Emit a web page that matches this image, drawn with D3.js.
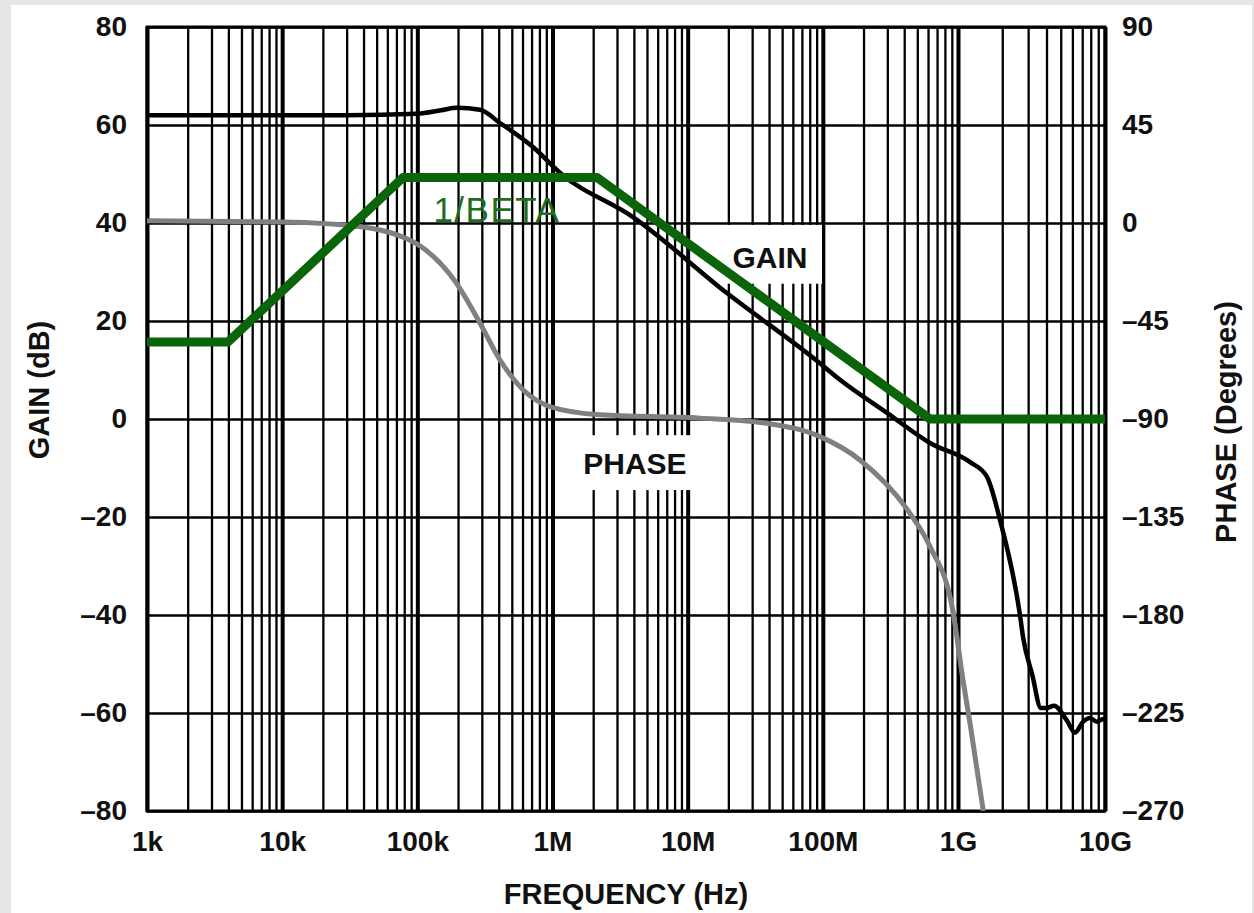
<!DOCTYPE html>
<html>
<head>
<meta charset="utf-8">
<script src="https://cdn.jsdelivr.net/npm/d3@7"></script>
<style>
  html, body { margin: 0; padding: 0; background: #e6e6e6; }
  svg { display: block; }
  text { font-family: "Liberation Sans", Arial, Helvetica, sans-serif; }
</style>
</head>
<body>
<svg id="chart" width="1254" height="913"></svg>
<script>
// Open-loop gain / phase and feedback factor (1/beta) versus frequency

// Frequency axis decades and labels
const decades = [1e3, 1e4, 1e5, 1e6, 1e7, 1e8, 1e9, 1e10];
const decadeLabels = ["1k", "10k", "100k", "1M", "10M", "100M", "1G", "10G"];

// Left (gain) and right (phase) axis ticks
const gainTicks = [80, 60, 40, 20, 0, -20, -40, -60, -80];
const phaseTicks = [90, 45, 0, -45, -90, -135, -180, -225, -270];

// Open-loop gain, dB
const gainFreq = [1e3, 3e4, 1e5, 1.5e5, 1.96e5, 2.91e5, 4.09e5, 7.17e5, 1.14e6, 3.94e6,
  1.95e7, 9.5e7, 1.34e8, 3e8, 6.21e8, 1.21e9, 1.575e9, 1.93e9, 2.64e9, 2.77e9, 3.2e9,
  3.67e9, 4.0e9, 4.5e9, 5.5e9, 6.25e9, 7.08e9, 7.9e9, 8.8e9, 9.7e9, 1e10];
const gainDb = [62, 62, 62.3, 63, 63.5, 63.1, 60.4, 55.5, 50.2, 41.2,
  25.7, 11.4, 8.0, 1.2, -4.9, -8.8, -11.8, -20.6, -40, -44.5, -52.2,
  -59, -59, -58.5, -61.5, -64, -61.8, -61, -61.8, -61.2, -61.5];

// Open-loop phase, degrees
const phaseFreq = [1e3, 1e4, 3.96e4, 5.3e4, 7.5e4, 9.94e4, 1.95e5, 2.91e5, 4.09e5, 6.08e5,
  9.58e5, 2.25e6, 1.23e7, 3.85e7, 9.53e7, 1.88e8, 4.41e8, 6.21e8, 9.23e8, 1.081e9,
  1.207e9, 1.486e9];
const phaseDeg = [1, 0.5, -1.8, -3.2, -6, -9.6, -27.7, -46, -62.9, -76.7,
  -84.3, -88.1, -89.6, -92, -98.1, -108.8, -133.3, -148.6, -179.2, -209.8,
  -229.7, -270];

// Noise gain 1/beta, dB (piecewise straight segments)
const betaFreq = [1e3, 3.97e3, 7.83e4, 2.13e6, 6.21e8, 1e10];
const betaDb = [15.7, 15.7, 49.3, 49.3, 0, 0];

// Curve annotations: name, anchor (freq, dB), white panel [f0, f1, dbTop, dbBottom]
const notes = [
  { text: "GAIN", f: 4.06e7, db: 33, box: [1.09e7, 9.86e7, 39.6, 27.6] },
  { text: "PHASE", f: 4.07e6, db: -9, box: [1.47e6, 1.23e7, -3.3, -14.5] }
];
const betaNote = { text: "1/BETA", f: 3.88e5, db: 42.7 };

const svg = d3.select("#chart");
const W = 1254, H = 913;
const pLeft = 147, pRight = 1105, pTop = 27, pBottom = 811;

// card
svg.append("rect").attr("x", 0).attr("y", 0).attr("width", W).attr("height", H).attr("fill", "#e6e6e6");
svg.append("rect").attr("x", 11).attr("y", 5).attr("width", 1241).attr("height", 908).attr("fill", "#ffffff");

const x = d3.scaleLog().domain([1e3, 1e9, 1e10]).range([pLeft, 958, pRight]);
const yG = d3.scaleLinear().domain([-80, 80]).range([pBottom, pTop]);
const yP = d3.scaleLinear().domain([-270, 90]).range([pBottom, pTop]);

// vertical grid: 2..9 in every decade, heavier lines on the decades
const minor = [];
decades.slice(0, -1).forEach(d => { for (let k = 2; k <= 9; k++) minor.push(d * k); });

const grid = svg.append("g");
grid.append("g")
  .attr("transform", `translate(0,${pBottom})`)
  .call(d3.axisBottom(x).tickValues(minor).tickSize(-(pBottom - pTop)).tickFormat(""))
  .call(g => g.select(".domain").remove())
  .call(g => g.selectAll("line").attr("stroke", "#000").attr("stroke-width", 2.3));
grid.append("g")
  .attr("transform", `translate(0,${pBottom})`)
  .call(d3.axisBottom(x).tickValues(decades).tickSize(-(pBottom - pTop)).tickFormat(""))
  .call(g => g.select(".domain").remove())
  .call(g => g.selectAll("line").attr("stroke", "#000").attr("stroke-width", 4));
grid.append("g")
  .attr("transform", `translate(${pLeft},0)`)
  .call(d3.axisLeft(yG).tickValues(gainTicks).tickSize(-(pRight - pLeft)).tickFormat(""))
  .call(g => g.select(".domain").remove())
  .call(g => g.selectAll("line").attr("stroke", "#000").attr("stroke-width", 2.3));

// white panels behind curve names
notes.forEach(n => {
  svg.append("rect")
    .attr("x", x(n.box[0])).attr("y", yG(n.box[2]))
    .attr("width", x(n.box[1]) - x(n.box[0]))
    .attr("height", yG(n.box[3]) - yG(n.box[2]))
    .attr("fill", "#ffffff");
});

// frame
svg.append("rect")
  .attr("x", pLeft).attr("y", pTop).attr("width", pRight - pLeft).attr("height", pBottom - pTop)
  .attr("fill", "none").attr("stroke", "#000").attr("stroke-width", 3);

const fmt = v => (v < 0 ? "\u2013" + Math.abs(v) : String(v));
const styleLabels = g => g.selectAll("text").attr("font-size", 28).attr("font-weight", "bold")
  .attr("fill", "#111").attr("font-family", "'Liberation Sans', Arial, sans-serif");

// left axis labels
svg.append("g")
  .attr("transform", `translate(${pLeft},0)`)
  .call(d3.axisLeft(yG).tickValues(gainTicks).tickSize(0).tickPadding(20).tickFormat(fmt))
  .call(g => g.select(".domain").remove())
  .call(styleLabels);

// right axis labels
svg.append("g")
  .attr("transform", `translate(${pRight},0)`)
  .call(d3.axisRight(yP).tickValues(phaseTicks).tickSize(0).tickPadding(17).tickFormat(fmt))
  .call(g => g.select(".domain").remove())
  .call(styleLabels);

// bottom axis labels
svg.append("g")
  .attr("transform", `translate(0,${pBottom})`)
  .call(d3.axisBottom(x).tickValues(decades).tickSize(0).tickPadding(20)
    .tickFormat((d, i) => decadeLabels[i]))
  .call(g => g.select(".domain").remove())
  .call(styleLabels);

// axis titles
svg.append("text").attr("transform", "translate(49,390) rotate(-90)")
  .attr("text-anchor", "middle").attr("font-size", 29).attr("font-weight", "bold").attr("fill", "#111")
  .text("GAIN (dB)");
svg.append("text").attr("transform", "translate(1236,422) rotate(-90)")
  .attr("text-anchor", "middle").attr("font-size", 29).attr("font-weight", "bold").attr("fill", "#111")
  .text("PHASE (Degrees)");
svg.append("text").attr("x", 626).attr("y", 904)
  .attr("text-anchor", "middle").attr("font-size", 29).attr("font-weight", "bold").attr("fill", "#111")
  .text("FREQUENCY (Hz)");

// curves
const gainData = gainFreq.map((f, i) => [f, gainDb[i]]);
const phaseData = phaseFreq.map((f, i) => [f, phaseDeg[i]]);
const betaData = betaFreq.map((f, i) => [f, betaDb[i]]);

svg.append("path").datum(phaseData)
  .attr("d", d3.line().x(d => x(d[0])).y(d => yP(d[1])).curve(d3.curveMonotoneX))
  .attr("fill", "none").attr("stroke", "#808080").attr("stroke-width", 5);

svg.append("path").datum(gainData)
  .attr("d", d3.line().x(d => x(d[0])).y(d => yG(d[1])).curve(d3.curveMonotoneX))
  .attr("fill", "none").attr("stroke", "#000").attr("stroke-width", 4.5).attr("stroke-linejoin", "round");

svg.append("path").datum(betaData)
  .attr("d", d3.line().x(d => x(d[0])).y(d => yG(d[1])))
  .attr("fill", "none").attr("stroke", "#0a640a").attr("stroke-width", 9).attr("stroke-linejoin", "round");

// curve names
notes.forEach(n => {
  svg.append("text").attr("x", x(n.f)).attr("y", yG(n.db))
    .attr("text-anchor", "middle").attr("dominant-baseline", "central")
    .attr("font-size", 30).attr("font-weight", "bold").attr("fill", "#111")
    .text(n.text);
});
svg.append("text").attr("x", x(betaNote.f)).attr("y", yG(betaNote.db))
  .attr("text-anchor", "middle").attr("dominant-baseline", "central")
  .attr("font-size", 35).attr("letter-spacing", 1.5).attr("fill", "#1e6e1e")
  .text(betaNote.text);
</script>
</body>
</html>
